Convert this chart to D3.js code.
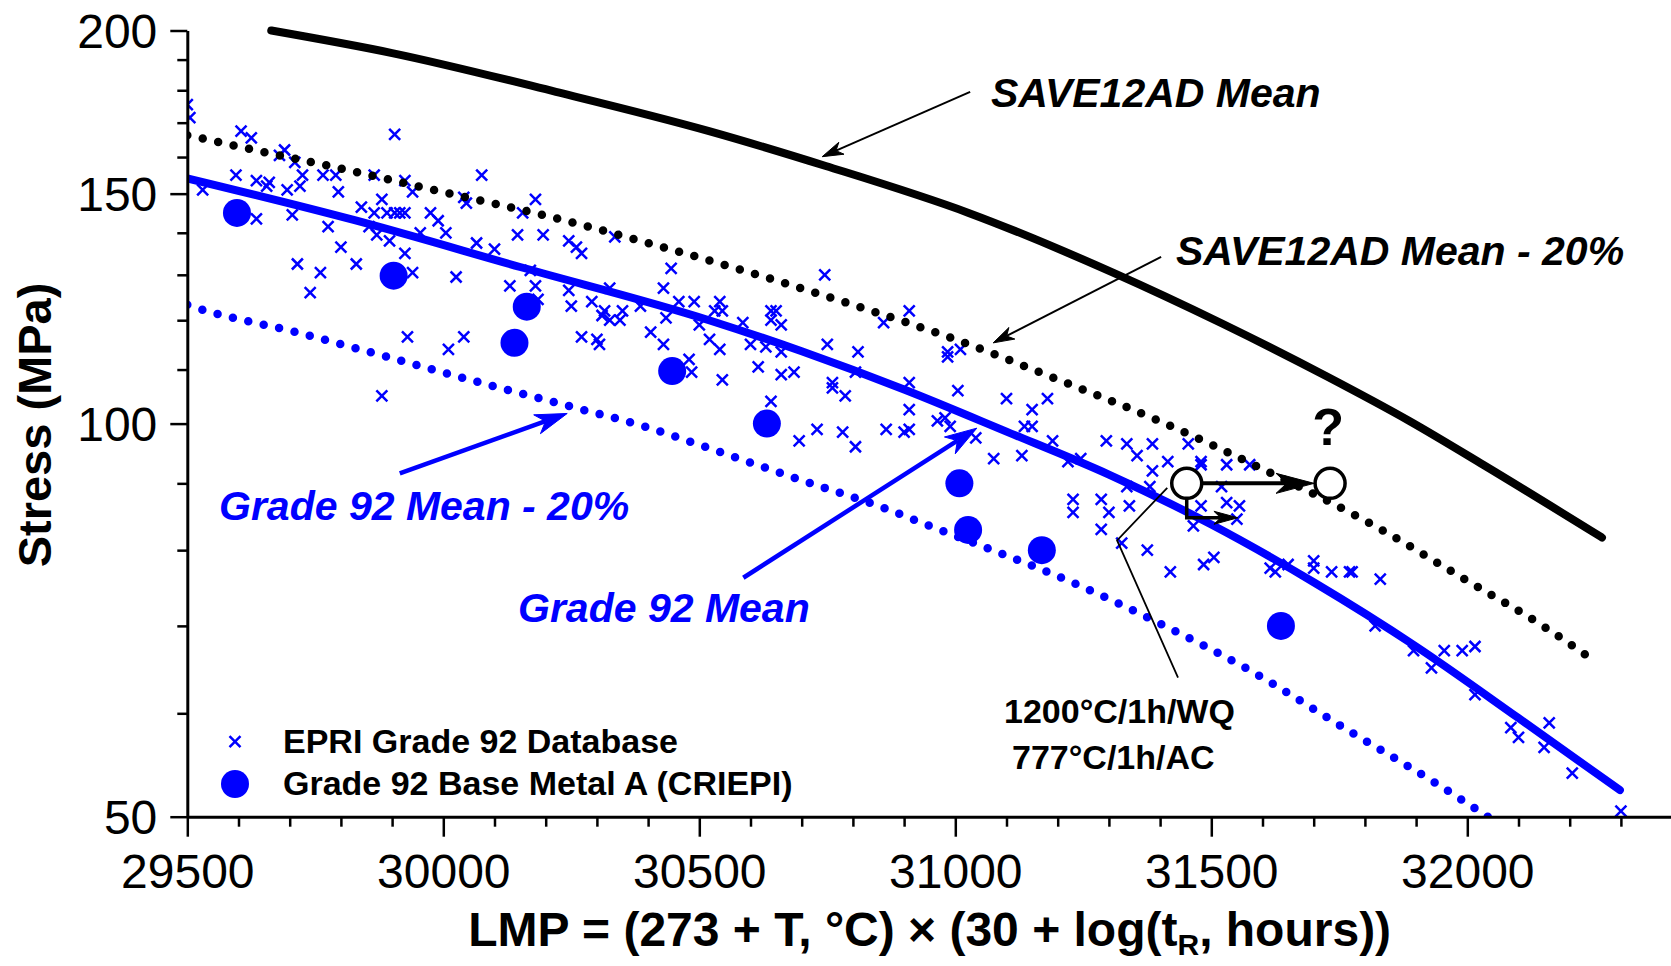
<!DOCTYPE html>
<html>
<head>
<meta charset="utf-8">
<script src="https://cdn.jsdelivr.net/npm/d3@7"></script>
<style>
  html, body { margin: 0; padding: 0; background: #ffffff; }
  svg { display: block; }
</style>
</head>
<body>
<svg id="chart" width="1671" height="966"></svg>
<script>
// ---------------- DATA ----------------
const xTickLabels = [29500, 30000, 30500, 31000, 31500, 32000];
const yTickLabels = [50, 100, 150, 200];
const yMinorTicks = [60, 70, 80, 90, 110, 120, 130, 140, 160, 170, 180, 190];

// SAVE12AD Mean (solid black)
const saveMeanLMP    = [29664, 29900, 30220, 30519, 30747, 31026, 31308, 31521, 31725, 31886, 32031, 32263];
const saveMeanStress = [200, 192.2, 179.5, 167.5, 157.5, 145, 130.5, 119.3, 108.7, 100.5, 93, 81.8];

// SAVE12AD Mean - 20% (dotted black)
const saveM20LMP    = [29500, 29650, 29800, 30000, 30200, 30400, 30600, 30800, 31000, 31200, 31400, 31600, 31800, 32000, 32150, 32246];
const saveM20Stress = [166.3, 161.4, 156.8, 150.4, 144.3, 137.5, 130.5, 123.3, 116, 108.1, 100.4, 92.3, 84.3, 75.8, 69.9, 65.9];

// Grade 92 Mean (solid blue)
const g92MeanLMP    = [29500, 29825, 30150, 30519, 30700, 30900, 31100, 31300, 31500, 31700, 31900, 32100, 32298];
const g92MeanStress = [154.1, 143.2, 131.8, 120, 113.6, 106.2, 98.6, 91.4, 83.7, 75.6, 67.5, 59.5, 52.4];

// Grade 92 Mean - 20% (dotted blue)
const g92M20LMP    = [29500, 29525, 29708, 29890, 30072, 30255, 30404, 30501, 30696, 30853, 30970, 31087, 31211, 31406, 31576, 31771, 31940, 32040];
const g92M20Stress = [123.3, 122.4, 117.6, 112.5, 107.5, 102.9, 99.2, 96.3, 90.6, 86.4, 82.9, 79.6, 76.1, 70.1, 64.7, 58.1, 53.0, 50.0];

// Grade 92 Base Metal A (CRIEPI)
const criepiLMP    = [29597, 29903, 30163, 30139, 30447, 30632, 31008, 31025, 31169, 31636];
const criepiStress = [145, 129.8, 122.9, 115.3, 109.7, 100, 90, 82.9, 80, 70];

// EPRI Grade 92 Database
const epriLMP = [
  29500,29505,29605,29625,29905,29690,29680,29710,29595,29635,29660,29655,29725,29720,29695,29765,29790,29865,29530,29795,
  29925,29940,30075,29840,29880,29865,29890,29905,29915,29925,29635,29705,29775,29975,29990,30005,29955,29870,29895,29855,
  29800,29925,29715,29760,29830,29740,29940,30025,30040,30045,30180,30155,30145,30195,30065,30100,30245,30260,30270,30335,
  30445,30130,30180,30185,30245,30250,30290,30315,30310,30325,30345,30350,30325,30385,30430,30435,30460,30490,30500,30520,
  30270,30300,30305,30405,30430,29930,30010,30040,29880,30480,30485,30170,
  30745,30910,30860,30985,30985,31010,30540,30530,30545,30585,30640,30650,30640,30660,30540,30600,30630,30660,30750,30810,
  30615,30660,30685,30545,30760,30760,30785,30805,30910,31005,31100,31180,31150,30910,30640,30965,30980,30990,31135,31150,
  30865,30900,30910,30730,30780,30695,30805,31040,31190,31075,31130,31220,31245,31295,31335,31355,31385,31415,31385,31455,
  31480,31230,31230,31285,31300,31340,31335,31380,31285,31325,31375,31420,31480,31465,31485,31505,
  31480,31530,31575,31520,31530,31555,31550,31615,31625,31700,31700,31735,31770,31775,31830,31650,31820,31895,31955,31990,
  32015,31930,32015,32085,32100,32160,32150,32205,32300
];
const epriStress = [
  175.5,171.5,167.5,165.5,166.5,162,160.5,158.5,155,153.5,153,152,155,152,151,155,155,155,151,150.5,
  153.5,150.5,155,146.5,148.5,145,145,145,145,145,143.5,144.5,141.5,145,143,140,140,139.5,138,141.5,
  136.5,135,132.5,130.5,132.5,126,130.5,129.5,149,147.5,148.5,145,139.5,139.5,137.5,136,138,136.5,135,139,
  131.5,127.5,127.5,124.5,126.5,123,124,122,121,120,120,122,127,123,127,120.5,124,124,119,116,
  116.5,116,115,117.5,115,116.5,114,116.5,105,112,109.5,131,
  130,122,119.5,113.5,112.5,114,124,122,122,119.5,122,122,120,119,114,115,114.5,113.5,115,113.5,
  110.5,109,109.5,108,107.5,106.5,105,109.5,107.5,106,104.5,104.5,102.5,102.5,104,100.5,101,99.5,99.5,99.5,
  99,98.5,99,99,98.5,97,96,97.5,97,94,94.5,93.5,94,97,96.5,94.5,96.5,93.5,92,96.5,
  93.5,87.5,85.5,87.5,85.5,86.5,89.5,89.5,83,81,80,77,86.5,83.5,78,79,
  93,93,93,89.5,87,86.5,84.5,77.5,77,78.5,77.5,77,77,77,76,78,70,67,67,67,
  67.5,65,62,58.5,57.5,59,56.5,54,50.5
];

// Open circles (heat-treatment annotation)
const openLMP    = [31452, 31732];
const openStress = [90, 90];

// ---------------- LAYOUT ----------------
const FONT = '"Liberation Sans", Arial, Helvetica, sans-serif';
const BLUE = "#0000ff";
const svg = d3.select("#chart");

const x = d3.scaleLinear().domain([29500, 32400]).range([187.3, 1672.1]);
const y = d3.scaleLog().domain([50, 200]).range([816.7, 30.5]);

svg.append("defs").append("clipPath").attr("id", "plotClip")
  .append("rect").attr("x", 188).attr("y", 18).attr("width", 1490).attr("height", 800);

const plot = svg.append("g").attr("clip-path", "url(#plotClip)");

// EPRI crosses
const CROSS = "M-5.5,-5.5L5.5,5.5M-5.5,5.5L5.5,-5.5";
plot.append("g").selectAll("path")
  .data(d3.range(epriLMP.length)).join("path")
  .attr("transform", i => `translate(${x(epriLMP[i])},${y(epriStress[i])})`)
  .attr("d", CROSS)
  .attr("fill", "none").attr("stroke", BLUE).attr("stroke-width", 2.5);

function curvePath(xs, ys) {
  return d3.line().x(i => x(xs[i])).y(i => y(ys[i])).curve(d3.curveMonotoneX)(d3.range(xs.length));
}

// SAVE12AD Mean
plot.append("path").attr("d", curvePath(saveMeanLMP, saveMeanStress))
  .attr("fill", "none").attr("stroke", "#000").attr("stroke-width", 8).attr("stroke-linecap", "round");
// SAVE12AD Mean - 20%
plot.append("path").attr("d", curvePath(saveM20LMP, saveM20Stress))
  .attr("fill", "none").attr("stroke", "#000").attr("stroke-width", 8.5)
  .attr("stroke-linecap", "round").attr("stroke-dasharray", "0 15.8");
// Grade 92 Mean
plot.append("path").attr("d", curvePath(g92MeanLMP, g92MeanStress))
  .attr("fill", "none").attr("stroke", BLUE).attr("stroke-width", 8).attr("stroke-linecap", "round");
// Grade 92 Mean - 20%
plot.append("path").attr("d", curvePath(g92M20LMP, g92M20Stress))
  .attr("fill", "none").attr("stroke", BLUE).attr("stroke-width", 8.5)
  .attr("stroke-linecap", "round").attr("stroke-dasharray", "0 15.8");

// CRIEPI circles
plot.append("g").selectAll("circle")
  .data(d3.range(criepiLMP.length)).join("circle")
  .attr("cx", i => x(criepiLMP[i])).attr("cy", i => y(criepiStress[i]))
  .attr("r", 14).attr("fill", BLUE);

// ---------------- ANNOTATIONS ----------------
const ann = svg.append("g");
function arrow(pts, color, sw, L, hw) {
  const n = pts.length;
  const [tx, ty] = pts[n - 1], [px, py] = pts[n - 2];
  const dx = tx - px, dy = ty - py, len = Math.hypot(dx, dy);
  const ux = dx / len, uy = dy / len, nx = -uy, ny = ux;
  const bx = tx - ux * L, by = ty - uy * L;
  const notch = [tx - ux * L * 0.72, ty - uy * L * 0.72];
  ann.append("path").attr("d", d3.line()(pts.slice(0, n - 1).concat([notch])))
    .attr("fill", "none").attr("stroke", color).attr("stroke-width", sw);
  ann.append("path")
    .attr("d", `M${tx},${ty}L${bx + nx * hw},${by + ny * hw}L${notch[0]},${notch[1]}L${bx - nx * hw},${by - ny * hw}Z`)
    .attr("fill", color).attr("stroke", color).attr("stroke-width", 1).attr("stroke-linejoin", "round");
}
const P = (l, s) => [x(l), y(s)];

arrow([P(31029, 179.5), P(30740, 160.1)], "#000", 2, 21, 6.5);
arrow([P(31402, 134.2), P(31074, 115.3)], "#000", 2, 21, 6.5);
arrow([P(29915, 91.6), P(30242, 101.8)], BLUE, 4.5, 32, 10);
arrow([P(30586, 76.2), P(31042, 99.2)], BLUE, 4.5, 32, 10);

// pointer line to open circle
ann.append("path").attr("d", d3.line()([P(31435, 63.9), P(31316, 81.4), P(31414, 89.3)]))
  .attr("fill", "none").attr("stroke", "#000").attr("stroke-width", 1.8);

// arrows between open circles
const c1 = P(openLMP[0], openStress[0]), c2 = P(openLMP[1], openStress[1]);
arrow([[c1[0] + 15, c1[1]], [c2[0] - 16, c2[1]]], "#000", 4, 38, 10);
const lY = y(84.7);
arrow([[c1[0], c1[1] + 15], [c1[0], lY], [x(31552), lY]], "#000", 3.5, 24, 6.5);

// open circles
ann.append("g").selectAll("circle")
  .data(d3.range(openLMP.length)).join("circle")
  .attr("cx", i => x(openLMP[i])).attr("cy", i => y(openStress[i]))
  .attr("r", 15).attr("fill", "#fff").attr("stroke", "#000").attr("stroke-width", 3.5);

// ---------------- AXES ----------------
const yAxis = d3.axisLeft(y).tickValues(yTickLabels).tickFormat(d => String(d))
  .tickSize(17).tickPadding(13).tickSizeOuter(0);
const gy = svg.append("g").attr("transform", "translate(187.3,0)").call(yAxis);
gy.select(".domain").attr("stroke-width", 3).attr("stroke", "#000");
gy.selectAll(".tick line").attr("stroke-width", 2.5).attr("stroke", "#000");
gy.selectAll(".tick text").attr("font-size", 48).attr("font-family", FONT).attr("fill", "#000").attr("dy", "0.36em");

const gyMinor = svg.append("g").attr("transform", "translate(187.3,0)")
  .call(d3.axisLeft(y).tickValues(yMinorTicks).tickFormat("").tickSize(10).tickSizeOuter(0));
gyMinor.select(".domain").remove();
gyMinor.selectAll(".tick line").attr("stroke-width", 2.5).attr("stroke", "#000");

const xAxis = d3.axisBottom(x).tickValues(xTickLabels).tickFormat(d => String(d))
  .tickSize(20).tickPadding(17).tickSizeOuter(0);
const gx = svg.append("g").attr("transform", "translate(0,816.7)").call(xAxis);
gx.select(".domain").attr("stroke-width", 3).attr("stroke", "#000");
gx.selectAll(".tick line").attr("stroke-width", 2.5).attr("stroke", "#000");
gx.selectAll(".tick text").attr("font-size", 48).attr("font-family", FONT).attr("fill", "#000");

const xMinorTicks = d3.range(29600, 32400, 100).filter(v => v % 500 !== 0);
const gxMinor = svg.append("g").attr("transform", "translate(0,816.7)")
  .call(d3.axisBottom(x).tickValues(xMinorTicks).tickFormat("").tickSize(10).tickSizeOuter(0));
gxMinor.select(".domain").remove();
gxMinor.selectAll(".tick line").attr("stroke-width", 2.5).attr("stroke", "#000");

// axis titles
svg.append("text").attr("transform", "translate(51,425) rotate(-90)")
  .attr("text-anchor", "middle").attr("font-family", FONT).attr("font-weight", "bold")
  .attr("font-size", 47).attr("fill", "#000").text("Stress (MPa)");

const xt = svg.append("text").attr("x", 929.7).attr("y", 946)
  .attr("text-anchor", "middle").attr("font-family", FONT).attr("font-weight", "bold")
  .attr("font-size", 48).attr("fill", "#000");
xt.append("tspan").text("LMP = (273 + T, \u00B0C) \u00D7 (30 + log(t");
xt.append("tspan").attr("font-size", 30).attr("dy", 9).text("R");
xt.append("tspan").attr("dy", -9).text(", hours))");

// text annotations
function label(tx, ty, str, opts) {
  svg.append("text").attr("x", tx).attr("y", ty)
    .attr("font-family", FONT).attr("font-weight", "bold")
    .attr("font-style", opts.italic ? "italic" : "normal")
    .attr("font-size", opts.size).attr("fill", opts.color || "#000")
    .attr("text-anchor", opts.anchor || "start").text(str);
}
label(991, 106.5, "SAVE12AD Mean", { italic: true, size: 41 });
label(1176, 265, "SAVE12AD Mean - 20%", { italic: true, size: 41 });
label(219, 520, "Grade 92 Mean - 20%", { italic: true, size: 41, color: BLUE });
label(518, 622, "Grade 92 Mean", { italic: true, size: 41, color: BLUE });
label(1004, 723, "1200\u00B0C/1h/WQ", { size: 34 });
label(1012, 769, "777\u00B0C/1h/AC", { size: 34 });
label(x(openLMP[1]) - 2, 445, "?", { size: 52, anchor: "middle" });

// legend
const leg = svg.append("g");
leg.append("path").attr("transform", "translate(235,741.7)")
  .attr("d", CROSS).attr("fill", "none").attr("stroke", BLUE).attr("stroke-width", 2.5);
leg.append("circle").attr("cx", 235).attr("cy", 784).attr("r", 14).attr("fill", BLUE);
leg.append("text").attr("x", 283).attr("y", 753).attr("font-family", FONT).attr("font-weight", "bold")
  .attr("font-size", 34).attr("fill", "#000").text("EPRI Grade 92 Database");
leg.append("text").attr("x", 283).attr("y", 795).attr("font-family", FONT).attr("font-weight", "bold")
  .attr("font-size", 34).attr("fill", "#000").text("Grade 92 Base Metal A (CRIEPI)");
</script>
</body>
</html>
